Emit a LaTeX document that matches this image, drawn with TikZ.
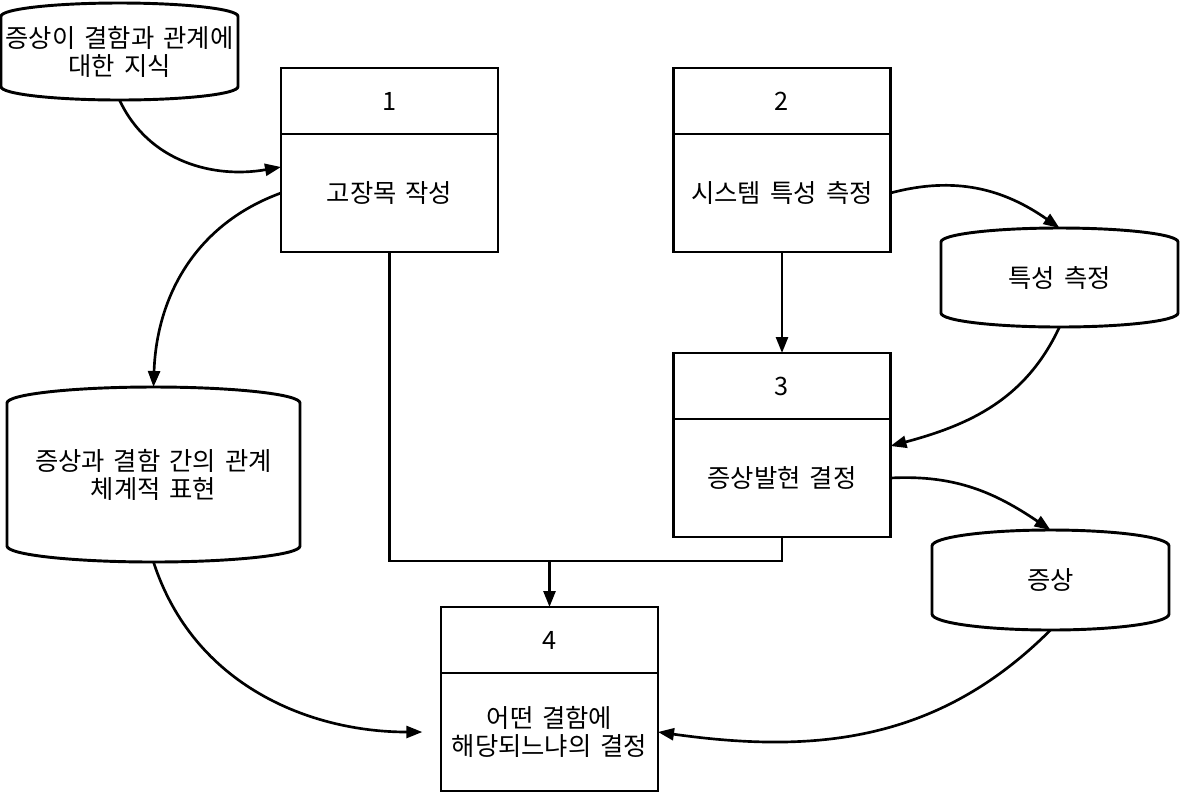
\documentclass[tikz,border=0pt]{standalone}
\usepackage{fontspec}
\setmainfont[WordSpace=1.6]{Noto Sans CJK KR}
\usetikzlibrary{arrows.meta,calc}
\newcommand\cylpath[3]{%
 \draw[line] ([yshift=-#2]#1.north west) .. controls +(0pt,0.55*#2) and +(-#3,0pt) .. (#1.north)
  .. controls +(#3,0pt) and +(0pt,0.55*#2) .. ([yshift=-#2]#1.north east)
  -- ([yshift=#2]#1.south east)
  .. controls +(0pt,-0.55*#2) and +(#3,0pt) .. (#1.south)
  .. controls +(-#3,0pt) and +(0pt,-0.55*#2) .. ([yshift=#2]#1.south west) -- cycle;}
\begin{document}
\begin{tikzpicture}[x=0.75pt,y=-0.75pt,
 txt/.style={font=\fontsize{19}{21}\selectfont},
 line/.style={line width=2.2pt},
 arr/.style={line width=2pt,-{Triangle[length=12pt,width=9pt]}},
 hdr/.style={draw,line,txt,minimum width=162.75pt,minimum height=49.5pt,inner sep=0pt,outer sep=0pt},
 body/.style={draw,line,txt,minimum width=162.75pt,minimum height=88.5pt,inner sep=0pt,outer sep=0pt,align=center,anchor=north},
 cyl/.style={txt,inner sep=0pt,outer sep=0pt,align=center}]
\useasboundingbox (0,0) rectangle (1180,794);
% process boxes
\node[hdr] (b1h) at (389.5,101) {1};
\node[body] (b1) at (b1h.south) {고장목 작성};
\node[hdr] (b2h) at (782,101) {2};
\node[body] (b2) at (b2h.south) {시스템 특성 측정};
\node[hdr] (b3h) at (782,386) {3};
\node[body] (b3) at (b3h.south) {증상발현 결정};
\node[hdr] (b4h) at (549.5,640) {4};
\node[body] (b4) at (b4h.south) {어떤 결함에\\해당되느냐의 결정};
% stores
\node[cyl,minimum width=177.75pt,minimum height=72.75pt] (c0) at (119.5,51.5) {증상이 결함과 관계에\\대한 지식};
\node[cyl,minimum width=219.75pt,minimum height=131.25pt] (c1) at (153.5,474.5) {증상과 결함 간의 관계\\체계적 표현};
\node[cyl,minimum width=177.75pt,minimum height=74.25pt] (c2) at (1059.5,277.5) {특성 측정};
\node[cyl,minimum width=177.75pt,minimum height=75pt] (c3) at (1050.5,580) {증상};
\cylpath{c0}{10pt}{49pt}
\cylpath{c1}{12pt}{60pt}
\cylpath{c2}{10.5pt}{49pt}
\cylpath{c3}{12pt}{49pt}
% connectors
\coordinate (j) at (549.5,561);
\draw[line] (b1.south) |- (j) -| (b3.south);
\draw[arr] (j) -- (b4h.north);
\draw[arr] (b2.south) -- (b3h.north);
\draw[arr] (c0.south) to[out=-65,in=190] ($(b1.west)+(0,-26)$);
\draw[arr] (b1.west) to[out=200,in=88] (c1.north);
\draw[arr] (b2.east) to[out=15,in=145] (c2.north);
\draw[arr] (c2.south) to[out=-115,in=15] ($(b3.east)+(0,-32)$);
\draw[arr] (b3.east) to[out=3,in=146] (c3.north);
\draw[arr] (c3.south) to[out=-135,in=-8] (b4.east);
\draw[arr,shorten >=14pt] (c1.south) to[out=-72,in=180] (b4.west);
\end{tikzpicture}
\end{document}
